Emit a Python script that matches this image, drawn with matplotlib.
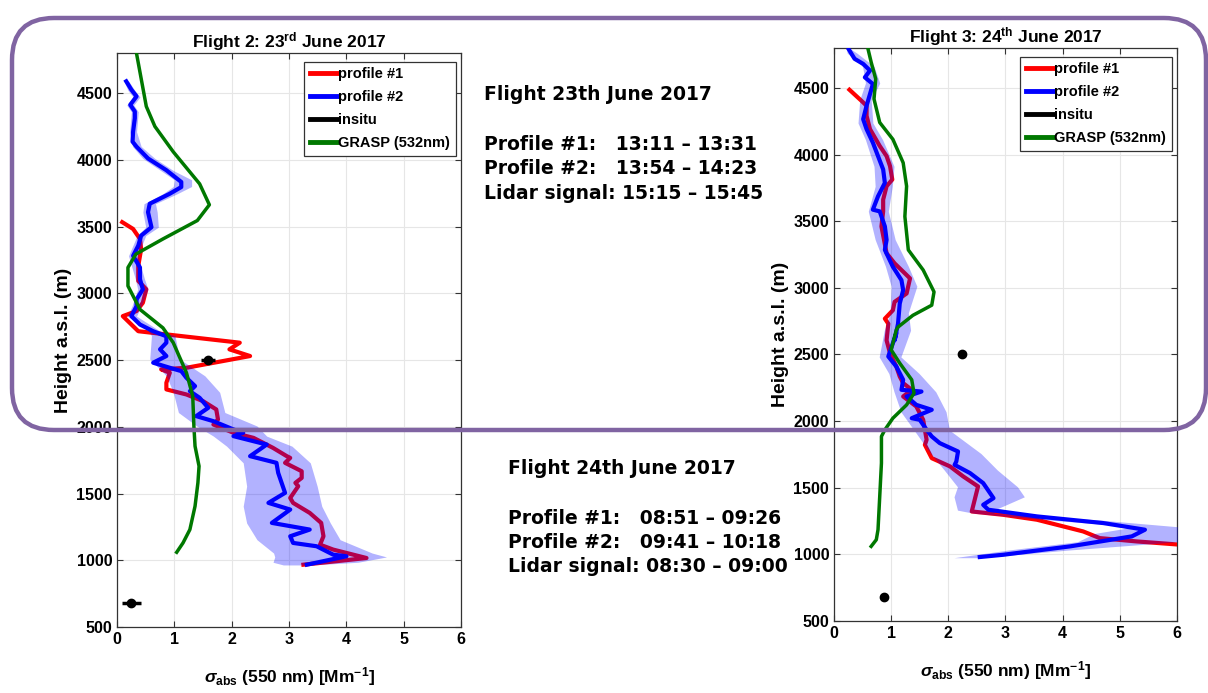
import numpy as np
import matplotlib
matplotlib.use("Agg")
from matplotlib import pyplot as plt
from matplotlib.patches import FancyBboxPatch
from matplotlib.transforms import IdentityTransform

plt.rcParams["font.family"] = ["Liberation Sans", "DejaVu Sans"]
plt.rcParams["font.weight"] = "bold"
plt.rcParams["mathtext.fontset"] = "custom"
plt.rcParams["mathtext.rm"] = "Liberation Sans:bold"
plt.rcParams["mathtext.bf"] = "Liberation Sans:bold"
plt.rcParams["mathtext.it"] = "Liberation Sans:italic"

# ---- Flight 2: 23 June 2017 ----
f2_p1_x = [0.09, 0.28, 0.40, 0.42, 0.37, 0.37, 0.51, 0.45, 0.34, 0.10, 0.37, 2.14, 1.96, 2.32,
           1.21, 0.77, 0.92, 0.86, 0.86, 1.21, 1.50, 1.73, 1.76, 1.68, 2.03, 2.38, 2.72, 2.96,
           3.02, 2.93, 3.22, 3.22, 3.11, 3.16, 3.02, 3.07, 3.36, 3.56, 3.60, 3.54, 3.77, 4.35, 3.25]
f2_p1_y = [3533, 3482, 3407, 3331, 3206, 3093, 3030, 2929, 2867, 2829, 2716, 2630, 2580, 2530,
           2442, 2430, 2405, 2330, 2280, 2242, 2192, 2130, 2055, 2017, 1955, 1917, 1842, 1780,
           1767, 1730, 1667, 1617, 1580, 1555, 1467, 1430, 1355, 1280, 1180, 1117, 1080, 1017, 967]

f2_p2_x = [0.16, 0.25, 0.34, 0.23, 0.31, 0.31, 0.28, 0.27, 0.34, 0.54, 0.86, 1.12, 1.12, 0.92,
           0.57, 0.54, 0.60, 0.42, 0.37, 0.28, 0.40, 0.40, 0.45, 0.34, 0.34, 0.25, 0.40, 0.63,
           0.86, 0.86, 0.75, 0.86, 0.63, 0.92, 1.12, 1.21, 1.36, 1.27, 1.44, 1.59, 1.38, 1.68,
           2.03, 2.20, 2.03, 2.61, 2.32, 2.78, 2.81, 2.93, 2.64, 3.02, 2.70, 3.36, 3.02, 3.07,
           3.48, 3.77, 4.00, 3.31]
f2_p2_y = [4588, 4525, 4475, 4412, 4362, 4312, 4211, 4136, 4098, 4010, 3922, 3834, 3796, 3746,
           3671, 3608, 3495, 3432, 3357, 3281, 3193, 3105, 3030, 2954, 2904, 2829, 2766, 2716,
           2678, 2630, 2580, 2530, 2480, 2442, 2417, 2367, 2305, 2267, 2217, 2142, 2080, 2042,
           1980, 1955, 1930, 1867, 1780, 1730, 1655, 1505, 1430, 1380, 1280, 1230, 1180, 1130,
           1105, 1042, 1030, 967]

# uncertainty band of profile #2
f2_band_y = [4590, 4520, 4470, 4410, 4360, 4210, 4100, 4010, 3920, 3850, 3800, 3746, 3671, 3608,
             3495, 3432, 3281, 3105, 3030, 2904, 2829, 2716, 2683, 2508, 2382, 2258, 2107, 2006,
             1930, 1855, 1730, 1555, 1405, 1279, 1154, 1054, 1025, 985, 965]
f2_band_lo = [0.12, 0.19, 0.28, 0.17, 0.25, 0.22, 0.27, 0.45, 0.76, 1.00, 0.98, 0.80, 0.47, 0.45,
              0.50, 0.35, 0.20, 0.32, 0.36, 0.26, 0.18, 0.55, 0.60, 0.57, 0.86, 0.98, 1.07, 1.39,
              1.68, 1.91, 2.20, 2.26, 2.20, 2.26, 2.44, 2.73, 2.75, 2.72, 2.90]
f2_band_hi = [0.20, 0.31, 0.40, 0.29, 0.37, 0.34, 0.42, 0.66, 0.98, 1.30, 1.30, 1.05, 0.67, 0.70,
              0.72, 0.50, 0.36, 0.48, 0.54, 0.42, 0.34, 0.75, 1.01, 1.09, 1.53, 1.79, 1.88, 2.44,
              2.61, 3.05, 3.37, 3.49, 3.57, 3.72, 3.89, 4.45, 4.70, 4.20, 3.40]

f2_grasp_x = [0.33, 0.51, 0.66, 0.98, 1.44, 1.61, 1.40, 0.80, 0.33, 0.19, 0.19, 0.40, 0.80,
              0.98, 1.21, 1.32, 1.34, 1.36, 1.43, 1.41, 1.36, 1.27, 1.15, 1.04]
f2_grasp_y = [4819, 4400, 4250, 4060, 3820, 3663, 3545, 3407, 3294, 3193, 3055, 2879, 2741,
              2630, 2405, 2230, 2005, 1855, 1705, 1580, 1405, 1230, 1130, 1060]

f2_insitu_x = [1.59, 0.25]
f2_insitu_y = [2500, 680]
f2_insitu_err = [0.12, 0.17]

# ---- Flight 3: 24 June 2017 ----
f3_p1_x = [0.27, 0.48, 0.57, 0.57, 0.63, 0.80, 0.92, 0.98, 1.02, 0.92, 0.86, 0.86, 0.83, 0.92,
           1.06, 1.24, 1.33, 1.27, 1.06, 1.03, 0.89, 0.95, 0.92, 0.98, 1.09, 1.15, 1.21, 1.36,
           1.21, 1.44, 1.56, 1.62, 1.59, 1.71, 2.03, 2.26, 2.52, 2.41, 2.96, 3.55, 4.36, 4.65,
           5.30, 6.20]
f3_p1_y = [4487, 4404, 4367, 4291, 4191, 4065, 3989, 3914, 3813, 3763, 3662, 3574, 3461, 3260,
           3184, 3109, 3071, 2958, 2895, 2832, 2769, 2731, 2606, 2510, 2410, 2335, 2285, 2235,
           2185, 2110, 2010, 1860, 1822, 1722, 1660, 1585, 1510, 1322, 1297, 1260, 1172, 1122,
           1097, 1068]

f3_p2_x = [0.26, 0.36, 0.51, 0.63, 0.54, 0.68, 0.63, 0.57, 0.51, 0.57, 0.68, 0.77, 0.86, 0.89,
           0.77, 0.68, 0.80, 0.89, 0.92, 0.89, 1.03, 1.18, 1.21, 1.15, 1.12, 1.06, 1.09, 0.95,
           1.09, 1.21, 1.18, 1.53, 1.27, 1.44, 1.71, 1.36, 1.50, 1.62, 1.71, 1.85, 2.17, 2.14,
           2.11, 2.38, 2.61, 2.79, 2.61, 2.70, 3.55, 4.71, 5.44, 5.21, 4.13, 2.96, 2.55]
f3_p2_y = [4789, 4719, 4681, 4631, 4580, 4530, 4455, 4367, 4266, 4191, 4090, 3989, 3889, 3788,
           3687, 3587, 3574, 3461, 3360, 3285, 3159, 3058, 2983, 2882, 2731, 2606, 2660, 2485,
           2410, 2310, 2235, 2222, 2185, 2122, 2085, 2022, 2010, 1935, 1885, 1835, 1772, 1697,
           1672, 1610, 1535, 1422, 1372, 1335, 1285, 1235, 1185, 1135, 1060, 997, 980]

f3_band_y = [4790, 4762, 4662, 4537, 4412, 4237, 4112, 3912, 3762, 3575, 3362, 3162, 3012, 2812,
             2682, 2482, 2357, 2220, 2070, 1932, 1757, 1632, 1507, 1432, 1332, 1308, 1257, 1207,
             1157, 1095, 1032, 975]
f3_band_lo = [0.22, 0.23, 0.50, 0.55, 0.45, 0.42, 0.55, 0.70, 0.72, 0.60, 0.72, 0.90, 1.00, 0.98,
              0.88, 0.79, 0.96, 1.05, 1.17, 1.40, 1.69, 1.93, 2.16, 2.10, 2.16, 2.45, 3.80, 5.26,
              4.56, 4.26, 3.04, 2.10]
f3_band_hi = [0.30, 0.40, 0.70, 0.80, 0.65, 0.68, 0.85, 1.05, 1.02, 0.95, 1.07, 1.30, 1.45, 1.30,
              1.34, 1.17, 1.49, 1.78, 1.96, 2.02, 2.57, 2.86, 3.21, 3.33, 2.80, 2.80, 4.67, 6.02,
              6.02, 6.02, 4.09, 2.57]

f3_grasp_x = [0.58, 0.65, 0.73, 0.70, 0.80, 1.03, 1.21, 1.27, 1.24, 1.30, 1.56, 1.75, 1.71,
              1.38, 1.12, 1.09, 1.00, 1.15, 1.36, 1.40, 1.27, 1.03, 0.89, 0.83, 0.83, 0.80,
              0.77, 0.74, 0.65]
f3_grasp_y = [4820, 4694, 4568, 4417, 4241, 4115, 3939, 3763, 3536, 3285, 3134, 2970, 2870,
              2794, 2706, 2685, 2535, 2435, 2310, 2210, 2122, 2022, 1935, 1885, 1685, 1435,
              1185, 1110, 1060]

f3_insitu_x = [2.24, 0.87]
f3_insitu_y = [2500, 680]
f3_insitu_err = [0.0, 0.0]

notes = {
    "f2": ["Flight 23th June 2017", "",
           "Profile #1:   13:11 \u2013 13:31",
           "Profile #2:   13:54 \u2013 14:23",
           "Lidar signal: 15:15 \u2013 15:45"],
    "f3": ["Flight 24th June 2017", "",
           "Profile #1:   08:51 \u2013 09:26",
           "Profile #2:   09:41 \u2013 10:18",
           "Lidar signal: 08:30 \u2013 09:00"],
}


def draw_panel(ax, title, p1x, p1y, p2x, p2y, by, blo, bhi, gx, gy, ix, iy, ierr):
    ax.plot(p1x, p1y, color="#ff0000", lw=3, zorder=3)
    ax.fill_betweenx(by, blo, bhi, color="#0000ff", alpha=0.3, lw=0, zorder=4)
    ax.plot(p2x, p2y, color="#0000ff", lw=3, zorder=5)
    ax.errorbar(ix, iy, xerr=ierr, fmt="o", color="black", ms=6, lw=2.5,
                capsize=0, zorder=6)
    ax.plot(gx, gy, color="#007800", lw=2.5, zorder=5)

    ax.set_xlim(0, 6)
    ax.set_ylim(500, 4800)
    ax.set_xticks(range(0, 7))
    ax.set_yticks(range(500, 5000, 500))
    ax.grid(True, color="#e6e6e6", lw=0.8)
    ax.set_axisbelow(True)
    ax.tick_params(direction="in", top=True, right=True, length=4, labelsize=11.5,
                   color="#333333", width=0.8)
    for lab in ax.get_xticklabels() + ax.get_yticklabels():
        lab.set_fontweight("bold")
    for s in ax.spines.values():
        s.set_color("#333333")
        s.set_linewidth(0.9)
    ax.set_title(title, fontsize=12.5, fontweight="bold", pad=4)
    ax.set_ylabel("Height a.s.l. (m)", fontsize=14, fontweight="bold", labelpad=3)
    ax.set_xlabel(r"$\mathit{\sigma}_{\mathbf{abs}}$ (550 nm) [Mm$^{\mathbf{-1}}$]",
                  fontsize=12.5, fontweight="bold", labelpad=13)

    handles = [
        plt.Line2D([], [], color="#ff0000", lw=3.5),
        plt.Line2D([], [], color="#0000ff", lw=3.5),
        plt.Line2D([], [], color="black", lw=3.5),
        plt.Line2D([], [], color="#007800", lw=3.5),
    ]
    leg = ax.legend(handles, ["profile #1", "profile #2", "insitu", "GRASP (532nm)"],
                    loc="upper right", bbox_to_anchor=(0.985, 0.985), fancybox=False,
                    edgecolor="#333333", framealpha=1, handlelength=1.9, handletextpad=0.05,
                    borderpad=0.4, labelspacing=0.6, borderaxespad=0.0,
                    prop={"weight": "bold", "size": 10.5})
    leg.get_frame().set_linewidth(0.9)


fig = plt.figure(figsize=(12.08, 6.93), dpi=100)
ax1 = fig.add_axes([0.0969, 0.0952, 0.2848, 0.8283])
ax2 = fig.add_axes([0.6904, 0.1039, 0.2839, 0.8268])

draw_panel(ax1, r"Flight 2: 23$^{\mathbf{rd}}$ June 2017", f2_p1_x, f2_p1_y, f2_p2_x, f2_p2_y,
           f2_band_y, f2_band_lo, f2_band_hi, f2_grasp_x, f2_grasp_y,
           f2_insitu_x, f2_insitu_y, f2_insitu_err)
draw_panel(ax2, r"Flight 3: 24$^{\mathbf{th}}$ June 2017", f3_p1_x, f3_p1_y, f3_p2_x, f3_p2_y,
           f3_band_y, f3_band_lo, f3_band_hi, f3_grasp_x, f3_grasp_y,
           f3_insitu_x, f3_insitu_y, f3_insitu_err)

# text notes between the panels
for key, (x0, y0) in {"f2": (484, 95), "f3": (508, 468)}.items():
    for i, line in enumerate(notes[key]):
        if not line:
            continue
        y = y0 + (0 if i == 0 else 26 + (i - 1) * 24)
        fig.text(x0 / 1208, 1 - y / 693, line, fontsize=13.5, fontweight="bold",
                 family="DejaVu Sans", va="center", ha="left")

# purple rounded highlight box (pixel coordinates)
box = FancyBboxPatch((12, 263), 1194, 412, boxstyle="round,pad=0,rounding_size=42",
                     transform=IdentityTransform(), facecolor="none", edgecolor="#8064A2",
                     lw=3.2, zorder=10)
fig.patches.append(box)

fig.savefig("out.png", dpi=100)
